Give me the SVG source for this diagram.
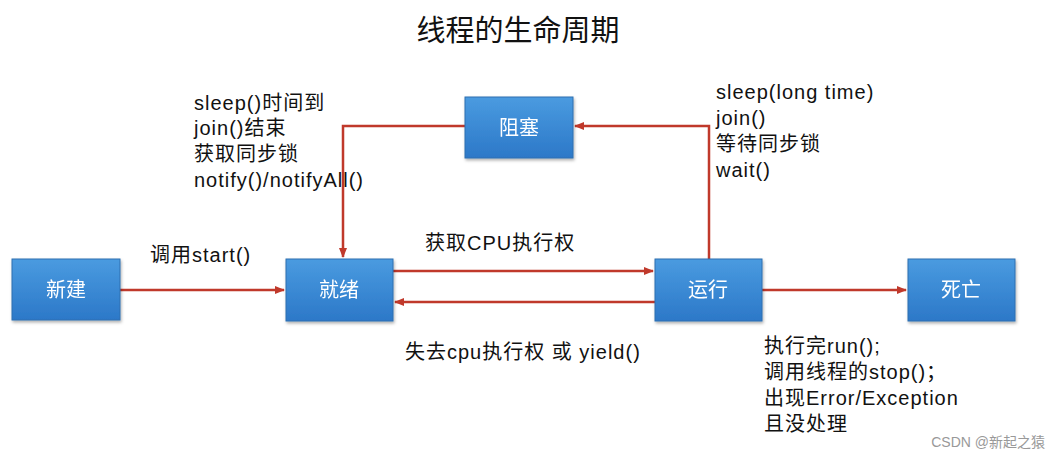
<svg xmlns="http://www.w3.org/2000/svg" width="1056" height="462" viewBox="0 0 1056 462">
<style>
text{font-family:"Liberation Sans","Noto Sans CJK SC",sans-serif;fill:#111}
.n{fill:url(#g);stroke:#2f6fb0;stroke-width:1}
.nt{fill:#fff;font-size:20px;text-anchor:middle}
.l{font-size:20px;letter-spacing:1px}
.c{stroke:#c0392b;stroke-width:2.5;fill:none;marker-end:url(#a)}
</style>
<defs>
<linearGradient id="g" x1="0" y1="0" x2="0" y2="1"><stop offset="0" stop-color="#4a9be0"/><stop offset="1" stop-color="#2c78c8"/></linearGradient>
<marker id="a" markerWidth="10" markerHeight="8" refX="9" refY="4" orient="auto" markerUnits="userSpaceOnUse"><path d="M0,0L10,4L0,8z" fill="#c0392b"/></marker>
<filter id="s"><feDropShadow dx="1" dy="2" stdDeviation="1.5" flood-opacity="0.3"/></filter>
</defs>
<rect width="1056" height="462" fill="#fff"/>
<text x="518" y="41" font-size="29" text-anchor="middle">线程的生命周期</text>
<g id="connectors">
<path class="c" d="M120,290H284"/>
<path class="c" d="M393,271H653"/>
<path class="c" d="M655,302H395"/>
<path class="c" d="M762,290H906"/>
<path class="c" d="M709,259V126H575"/>
<path class="c" d="M465,126H343V257"/>
</g>
<g id="n1" filter="url(#s)"><rect class="n" x="12" y="259" width="108" height="61"/><text class="nt" x="66" y="297">新建</text></g>
<g id="n2" filter="url(#s)"><rect class="n" x="286" y="259" width="107" height="62"/><text class="nt" x="339" y="297">就绪</text></g>
<g id="n3" filter="url(#s)"><rect class="n" x="655" y="259" width="107" height="62"/><text class="nt" x="708" y="297">运行</text></g>
<g id="n4" filter="url(#s)"><rect class="n" x="908" y="259" width="107" height="62"/><text class="nt" x="961" y="297">死亡</text></g>
<g id="n5" filter="url(#s)"><rect class="n" x="465" y="97" width="108" height="61"/><text class="nt" x="519" y="135">阻塞</text></g>
<g id="labels">
<text class="l" x="150" y="262">调用start()</text>
<text class="l" x="425" y="250">获取CPU执行权</text>
<text class="l" x="405" y="359">失去cpu执行权 或 yield()</text>
<text class="l"><tspan x="194" y="110">sleep()时间到</tspan><tspan x="194" y="135">join()结束</tspan><tspan x="194" y="161">获取同步锁</tspan><tspan x="194" y="187">notify()/notifyAll()</tspan></text>
<text class="l"><tspan x="716" y="99">sleep(long time)</tspan><tspan x="716" y="125">join()</tspan><tspan x="716" y="151">等待同步锁</tspan><tspan x="716" y="177">wait()</tspan></text>
<text class="l"><tspan x="764" y="353">执行完run();</tspan><tspan x="764" y="379">调用线程的stop()；</tspan><tspan x="764" y="405">出现Error/Exception</tspan><tspan x="764" y="431">且没处理</tspan></text>
</g>
<text x="1045" y="447" font-size="14" text-anchor="end" style="fill:#999">CSDN @新起之猿</text>
</svg>
